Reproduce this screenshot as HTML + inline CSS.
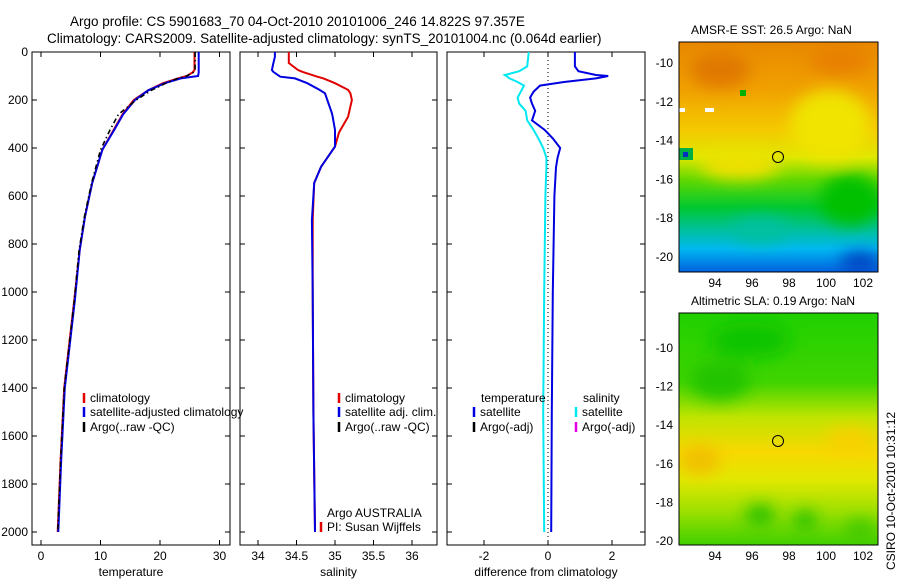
<!DOCTYPE html>
<html><head><meta charset="utf-8"><style>
body{margin:0;background:#fff;font-family:"Liberation Sans",sans-serif}
svg text{font-family:"Liberation Sans",sans-serif;font-size:12px;fill:#000}
</style></head><body>
<svg id="fig" width="900" height="580" viewBox="0 0 900 580" xmlns="http://www.w3.org/2000/svg">
<defs>
<linearGradient id="sstg" x1="0" y1="0" x2="0" y2="1">
<stop offset="0" stop-color="#e88800"/><stop offset="0.2" stop-color="#f0a000"/><stop offset="0.38" stop-color="#f4c800"/><stop offset="0.5" stop-color="#e0e800"/><stop offset="0.6" stop-color="#60d800"/><stop offset="0.72" stop-color="#00c830"/><stop offset="0.82" stop-color="#00c0a0"/><stop offset="0.9" stop-color="#00b8f0"/><stop offset="1" stop-color="#0060e0"/>
</linearGradient>
<linearGradient id="slag" x1="0" y1="0" x2="0" y2="1">
<stop offset="0" stop-color="#20d000"/><stop offset="0.3" stop-color="#40d400"/><stop offset="0.45" stop-color="#c0e400"/><stop offset="0.6" stop-color="#f8d800"/><stop offset="0.72" stop-color="#e0e800"/><stop offset="0.85" stop-color="#a0e000"/><stop offset="1" stop-color="#40d000"/>
</linearGradient>
<filter id="bl"><feGaussianBlur stdDeviation="8"/></filter>
<clipPath id="c1"><rect x="32" y="52" width="198" height="493"/></clipPath>
<clipPath id="c2"><rect x="240" y="52" width="197" height="493"/></clipPath>
<clipPath id="c3"><rect x="447" y="52" width="198" height="493"/></clipPath>
<clipPath id="m1"><rect x="679" y="42" width="199" height="230"/></clipPath>
<clipPath id="m2"><rect x="679" y="313" width="199" height="232"/></clipPath>
</defs>
<text x="70" y="26" style="font-size:13.5px">Argo profile: CS 5901683_70 04-Oct-2010 20101006_246 14.822S 97.357E</text>
<text x="47" y="43" style="font-size:13.5px">Climatology: CARS2009. Satellite-adjusted climatology: synTS_20101004.nc (0.064d earlier)</text>
<g id="plots"></g>

<g clip-path="url(#m1)">
<rect x="679" y="42" width="199" height="230" fill="url(#sstg)"/>
<g filter="url(#bl)">
<ellipse cx="720" cy="70" rx="30" ry="18" fill="#e07800"/>
<ellipse cx="840" cy="60" rx="30" ry="15" fill="#e88000"/>
<ellipse cx="830" cy="125" rx="40" ry="35" fill="#f0e400"/>
<ellipse cx="740" cy="165" rx="40" ry="14" fill="#f0e000"/>
<ellipse cx="850" cy="200" rx="30" ry="25" fill="#00c000"/>
<ellipse cx="860" cy="262" rx="20" ry="10" fill="#0040c0"/>
<ellipse cx="760" cy="230" rx="30" ry="12" fill="#00c0a0"/>
</g>
<rect x="740" y="90" width="6" height="6" fill="#00b000"/>
<rect x="679" y="108" width="6" height="4" fill="#fff"/>
<rect x="705" y="108" width="9" height="4" fill="#fff"/>
<rect x="679" y="148" width="14" height="12" fill="#00b040"/>
<rect x="683" y="152" width="5" height="5" fill="#0030c0"/>
<circle cx="778" cy="157" r="5.5" fill="none" stroke="#000"/>
</g>
<rect x="679" y="42" width="199" height="230" fill="none" stroke="#000"/>
<text x="691" y="34">AMSR-E SST: 26.5 Argo: NaN</text>

<g clip-path="url(#m2)">
<rect x="679" y="313" width="199" height="232" fill="url(#slag)"/>
<g filter="url(#bl)">
<ellipse cx="750" cy="340" rx="40" ry="18" fill="#10c400"/>
<ellipse cx="720" cy="380" rx="30" ry="20" fill="#20c400"/>
<ellipse cx="700" cy="460" rx="20" ry="15" fill="#f0c000"/>
<ellipse cx="850" cy="440" rx="25" ry="12" fill="#f8d000"/>
<ellipse cx="760" cy="515" rx="15" ry="10" fill="#20c000"/>
<ellipse cx="805" cy="520" rx="12" ry="9" fill="#20c000"/>
<ellipse cx="860" cy="530" rx="15" ry="10" fill="#40c800"/>
</g>
<circle cx="778" cy="441" r="5.5" fill="none" stroke="#000"/>
</g>
<rect x="679" y="313" width="199" height="232" fill="none" stroke="#000"/>
<text x="691" y="305">Altimetric SLA: 0.19 Argo: NaN</text>
<text transform="translate(895,570) rotate(-90)">CSIRO 10-Oct-2010 10:31:12</text>
</svg>
<script>
const NS='http://www.w3.org/2000/svg';
const tDepth=[0,75,85,100,110,130,160,200,260,325,408,546,686,825,1033,1400,1700,2000];
const tempClim=[25.8,25.8,25.5,24.5,23,20.5,18,15.6,13.7,12.2,10.3,8.6,7.4,6.5,5.6,3.9,3.3,2.8];
const tempSat=[26.5,26.5,26.5,26.4,23.5,20.8,18,15.8,13.8,12.3,10.3,8.6,7.4,6.5,5.7,4.0,3.4,2.9];
const tempArgo=[25.9,25.9,25.6,24.5,23,21,18.5,16,13,11.6,10,8.5,7.3,6.4,5.6,3.9,3.3,2.8];
const sDepth=[0,20,46,75,83,103,110,130,158,172,200,255,270,325,338,394,478,546,700,1000,1500,2000];
const salClim=[34.4,34.4,34.4,34.52,34.58,34.77,34.85,35.0,35.17,35.2,35.22,35.18,35.17,35.07,35.05,35.0,34.82,34.73,34.71,34.71,34.72,34.74];
const salSat=[34.22,34.22,34.2,34.18,34.2,34.29,34.48,34.64,34.8,34.87,34.9,34.96,34.97,35.0,35.0,35.0,34.82,34.73,34.7,34.71,34.72,34.74];
const dDepth=[0,60,80,96,100,110,125,140,165,190,215,245,285,325,360,400,440,480,600,1000,1500,2000];
const dTemp=[0.84,0.84,0.95,1.5,1.88,1.5,0.5,-0.25,-0.45,-0.56,-0.5,-0.4,-0.5,-0.1,0.15,0.38,0.3,0.25,0.2,0.15,0.12,0.1];
const dSal=[-0.6,-0.65,-0.9,-1.35,-1.3,-1.2,-0.95,-0.75,-0.85,-0.95,-0.9,-0.7,-0.65,-0.45,-0.3,-0.15,-0.05,-0.05,-0.08,-0.12,-0.15,-0.12];
const tTicks=[0,10,20,30], sTicks=[34,34.5,35,35.5,36], dTicks=[-2,0,2];
const yTicks=[0,200,400,600,800,1000,1200,1400,1600,1800,2000];
const latTicks=[-10,-12,-14,-16,-18,-20], lonTicks=[94,96,98,100,102];
const yS=d=>52+d*0.24;
const g=document.getElementById('plots');
function el(t,a,p){const e=document.createElementNS(NS,t);for(const k in a)e.setAttribute(k,a[k]);(p||g).appendChild(e);return e;}
function txt(x,y,s,anchor,name){const e=el('text',{x:x,y:y,'text-anchor':anchor||'start'});e.textContent=s;

return e;}
function panel(x0,w,xS,ticks,label,name,showY){
 const r=el('rect',{x:x0,y:52,width:w,height:493,fill:'none',stroke:'#000'});
 
 
 ticks.forEach(t=>{const x=xS(t);el('line',{x1:x,x2:x,y1:545,y2:540,stroke:'#000'});el('line',{x1:x,x2:x,y1:52,y2:57,stroke:'#000'});
  txt(x,560,String(t),'middle',name+'-x-tick');});
 yTicks.forEach(t=>{const y=yS(t);el('line',{x1:x0,x2:x0+5,y1:y,y2:y,stroke:'#000'});el('line',{x1:x0+w,x2:x0+w-5,y1:y,y2:y,stroke:'#000'});
  if(showY)txt(x0-4,y+4,String(t),'end','depth-y-tick');});
 txt(x0+w/2,576,label,'middle',name+'-x-title');
}
function line(xs,ds,xS,color,clip,name,dash,wd){
 const p=xs.map((v,i)=>(i?'L':'M')+xS(v).toFixed(1)+','+yS(ds[i]).toFixed(1)).join('');
 const e=el('path',{d:p,fill:'none',stroke:color,'stroke-width':wd||2,'clip-path':'url(#'+clip+')'});
 if(dash)e.setAttribute('stroke-dasharray',dash);
 
 
}
const xT=v=>41+v*5.95, xSal=v=>258+(v-34)*77, xD=v=>548+v*32;
panel(32,198,xT,tTicks,'temperature','temperature-panel',true);
panel(240,197,xSal,sTicks,'salinity','salinity-panel',false);
panel(447,198,xD,dTicks,'difference from climatology','difference-panel',false);
line(tempClim,tDepth,xT,'#e00000','c1','temp-climatology-line');
line(tempSat,tDepth,xT,'#0000e0','c1','temp-satellite-line');
line(tempArgo,tDepth,xT,'#000','c1','temp-argo-line','5,3,1.5,3',1.6);
line(salClim,sDepth,xSal,'#e00000','c2','sal-climatology-line');
line(salSat,sDepth,xSal,'#0000e0','c2','sal-satellite-line');
el('line',{x1:548,x2:548,y1:52,y2:545,stroke:'#000','stroke-dasharray':'1,3'});
line(dSal,dDepth,xD,'#00e8f0','c3','diff-sal-satellite-line');
line(dTemp,dDepth,xD,'#0000e0','c3','diff-temp-satellite-line');
function leg(x,y,c,s,name){el('line',{x1:x,x2:x,y1:y-9,y2:y+1,stroke:c,'stroke-width':2.5});txt(x+6,y,s,'start',name);}
leg(84,402,'#e00000','climatology','temp-legend-climatology');
leg(84,416,'#0000e0','satellite-adjusted climatology','temp-legend-satellite');
leg(84,431,'#000','Argo(..raw -QC)','temp-legend-argo');
leg(339,402,'#e00000','climatology','sal-legend-climatology');
leg(339,416,'#0000e0','satellite adj. clim.','sal-legend-satellite');
leg(339,431,'#000','Argo(..raw -QC)','sal-legend-argo');
txt(481,402,'temperature','start','diff-legend-temp-header');
txt(583,402,'salinity','start','diff-legend-sal-header');
leg(474,416,'#0000e0','satellite','diff-legend-temp-satellite');
leg(474,431,'#000','Argo(-adj)','diff-legend-temp-argo');
leg(576,416,'#00e8f0','satellite','diff-legend-sal-satellite');
leg(576,431,'#e000e0','Argo(-adj)','diff-legend-sal-argo');
txt(327,517,'Argo AUSTRALIA','start','argo-country-label');
leg(321,531,'#e00000','PI: Susan Wijffels','pi-label');
function mapAxes(y0,h,latY,name){
 latTicks.forEach(t=>{const y=latY(t);el('line',{x1:679,x2:684,y1:y,y2:y,stroke:'#000'});el('line',{x1:878,x2:873,y1:y,y2:y,stroke:'#000'});
  txt(673,y+4,String(t),'end',name+'-lat-tick');});
 lonTicks.forEach(t=>{const x=715+(t-94)*18.5;el('line',{x1:x,x2:x,y1:y0+h,y2:y0+h-5,stroke:'#000'});el('line',{x1:x,x2:x,y1:y0,y2:y0+5,stroke:'#000'});
  txt(x,y0+h+15,String(t),'middle',name+'-lon-tick');});
}
mapAxes(42,230,t=>63+(-10-t)*19.4,'sst-map');
mapAxes(313,232,t=>348+(-10-t)*19.3,'sla-map');
</script>
</body></html>
